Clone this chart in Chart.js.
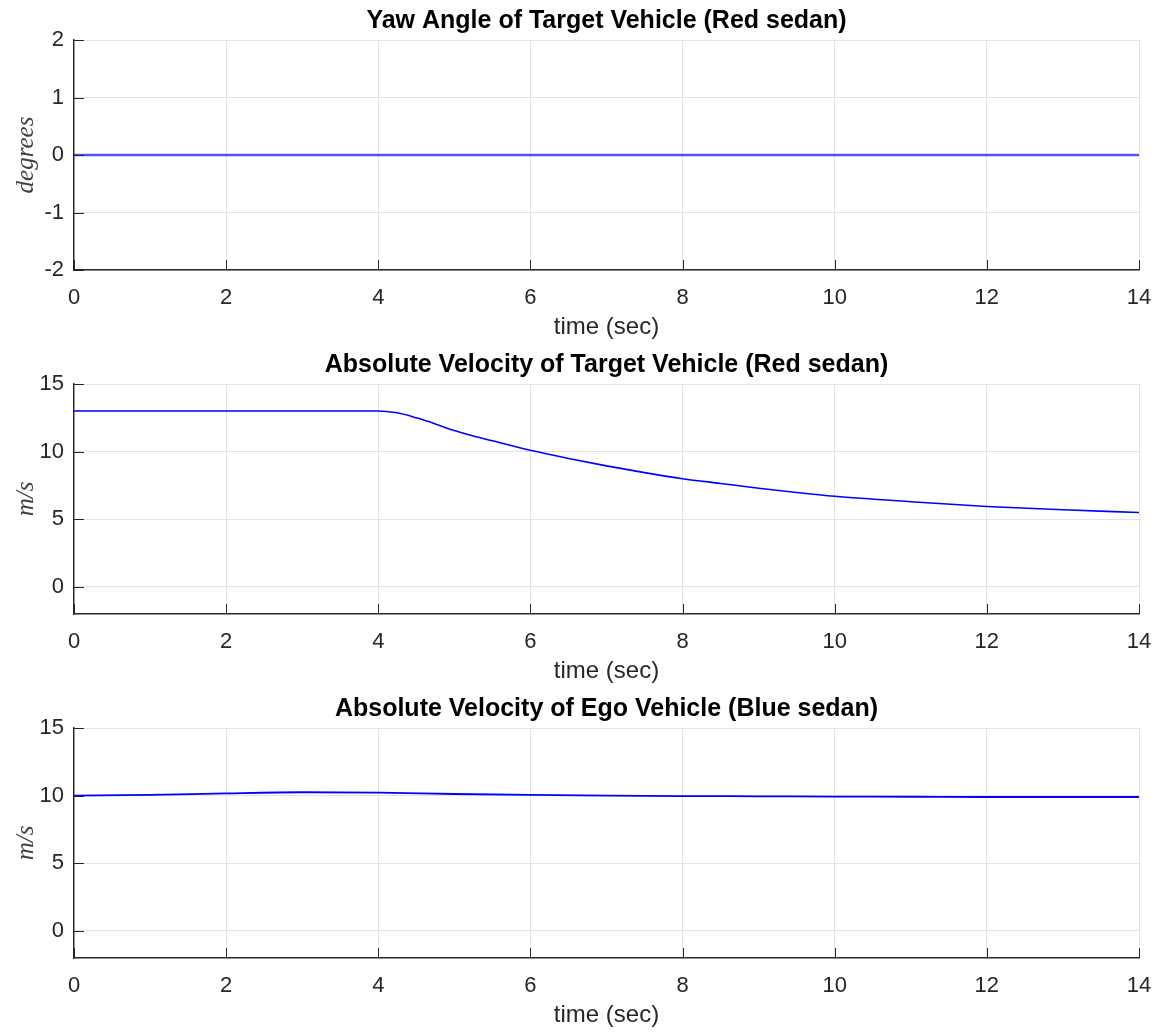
<!DOCTYPE html>
<html>
<head>
<meta charset="utf-8">
<script src="https://cdn.jsdelivr.net/npm/chart.js@4.4.1/dist/chart.umd.min.js"></script>
<style>
  html, body { margin: 0; padding: 0; background: #ffffff; }
  body { width: 1156px; height: 1032px; position: relative; overflow: hidden; }
  .panel { position: absolute; left: 0; width: 1156px; height: 344px; }
</style>
</head>
<body>
<div class="panel" style="top:0px"><canvas id="c1" width="1156" height="344"></canvas></div>
<div class="panel" style="top:344px"><canvas id="c2" width="1156" height="344"></canvas></div>
<div class="panel" style="top:688px"><canvas id="c3" width="1156" height="344"></canvas></div>
<script>
// ---- data ----
const xTicks = [0, 2, 4, 6, 8, 10, 12, 14];

const yawTicks = [-2, -1, 0, 1, 2];
const yawTime = [0, 2, 4, 6, 8, 10, 12, 14];
const yawDeg  = [0, 0, 0, 0, 0, 0, 0, 0];

const velTicks = [0, 5, 10, 15];

const targetTime = [0, 1, 2, 3, 4, 4.1, 4.25, 4.5, 4.75, 5, 5.25, 5.5, 6, 6.5, 7, 7.5, 8, 8.5, 9, 9.5, 10, 11, 12, 13, 14];
const targetVel  = [13, 13, 13, 13, 13, 12.97, 12.87, 12.5, 12.05, 11.56, 11.15, 10.8, 10.1, 9.5, 8.95, 8.45, 8.0, 7.65, 7.3, 6.98, 6.7, 6.3, 5.95, 5.7, 5.5];

const egoTime = [0, 1, 2, 3, 4, 5, 6, 7, 8, 9, 10, 11, 12, 13, 14];
const egoVel  = [10.0, 10.05, 10.17, 10.25, 10.22, 10.12, 10.05, 10.0, 9.97, 9.95, 9.93, 9.92, 9.9, 9.9, 9.9];

const titles = [
  'Yaw Angle of Target Vehicle (Red sedan)',
  'Absolute Velocity of Target Vehicle (Red sedan)',
  'Absolute Velocity of Ego Vehicle (Blue sedan)'
];
const yLabels = ['degrees', 'm/s', 'm/s'];
const xLabel = 'time (sec)';

// ---- styles ----
const AX = '#262626';
const GRID = '#e3e3e3';
const SANS = "'Liberation Sans', Arial, sans-serif";

const inwardTicks = {
  id: 'inwardTicks',
  afterDatasetsDraw(chart) {
    const {ctx, chartArea: a, scales} = chart;
    ctx.save();
    ctx.strokeStyle = AX;
    ctx.lineWidth = 1;
    ctx.beginPath();
    scales.x.ticks.forEach(t => {
      const px = Math.round(scales.x.getPixelForValue(t.value)) + 0.5;
      ctx.moveTo(px, a.bottom);
      ctx.lineTo(px, a.bottom - 10);
    });
    scales.y.ticks.forEach(t => {
      const py = Math.round(scales.y.getPixelForValue(t.value)) + 0.5;
      ctx.moveTo(a.left, py);
      ctx.lineTo(a.left + 10, py);
    });
    ctx.stroke();
    ctx.restore();
  }
};

const centeredTitle = {
  id: 'centeredTitle',
  afterDraw(chart, args, opts) {
    const {ctx, chartArea: a} = chart;
    ctx.save();
    ctx.fillStyle = '#000000';
    ctx.font = "bold 25px 'Liberation Sans', Arial, sans-serif";
    ctx.textAlign = 'center';
    ctx.textBaseline = 'alphabetic';
    ctx.fillText(opts.text, (a.left + a.right) / 2, a.top - 12);
    ctx.restore();
  }
};

function makeChart(id, title, yLabel, yMin, yMax, yTickVals, xs, ys, color, width) {
  const pts = xs.map((x, i) => ({x: x, y: ys[i]}));
  return new Chart(document.getElementById(id), {
    type: 'line',
    data: {
      datasets: [{
        data: pts,
        borderColor: color,
        borderWidth: width,
        pointRadius: 0,
        fill: false,
        cubicInterpolationMode: 'monotone'
      }]
    },
    options: {
      responsive: false,
      animation: false,
      events: [],
      layout: { padding: { left: 0, right: 17, top: 40, bottom: 0 } },
      plugins: {
        legend: { display: false },
        tooltip: { enabled: false },
        title: { display: false },
        centeredTitle: { text: title }
      },
      scales: {
        x: {
          type: 'linear',
          min: 0, max: 14,
          afterBuildTicks: s => { s.ticks = xTicks.map(v => ({value: v})); },
          afterFit: s => { s.height = 74; s.paddingLeft = 0; s.paddingRight = 0; },
          grid: { color: GRID, lineWidth: 1, drawTicks: false },
          border: { display: true, color: AX, width: 1.4 },
          ticks: { color: AX, font: { family: SANS, size: 22 }, padding: 15, maxRotation: 0 },
          title: {
            display: true, text: xLabel, color: AX,
            font: { family: SANS, size: 24 }, padding: { top: 0, bottom: 2 }
          }
        },
        y: {
          type: 'linear',
          min: yMin, max: yMax,
          afterBuildTicks: s => { s.ticks = yTickVals.map(v => ({value: v})); },
          afterFit: s => { s.width = 74; s.paddingTop = 0; s.paddingBottom = 0; },
          grid: { color: GRID, lineWidth: 1, drawTicks: false },
          border: { display: true, color: AX, width: 1.4 },
          ticks: { color: AX, font: { family: SANS, size: 22 }, padding: 10 },
          title: {
            display: true, text: yLabel, color: '#404040',
            font: { family: "'Liberation Serif', 'DejaVu Serif', serif", size: 25, style: 'italic' },
            padding: { top: 11, bottom: 0 }
          }
        }
      }
    },
    plugins: [inwardTicks, centeredTitle]
  });
}

makeChart('c1', titles[0], yLabels[0], -2, 2, yawTicks, yawTime, yawDeg, 'rgba(40,40,255,0.8)', 2.5);
makeChart('c2', titles[1], yLabels[1], -2, 15, velTicks, targetTime, targetVel, '#0000ff', 1.6);
makeChart('c3', titles[2], yLabels[2], -2, 15, velTicks, egoTime, egoVel, '#0000ff', 1.8);
</script>
</body>
</html>
